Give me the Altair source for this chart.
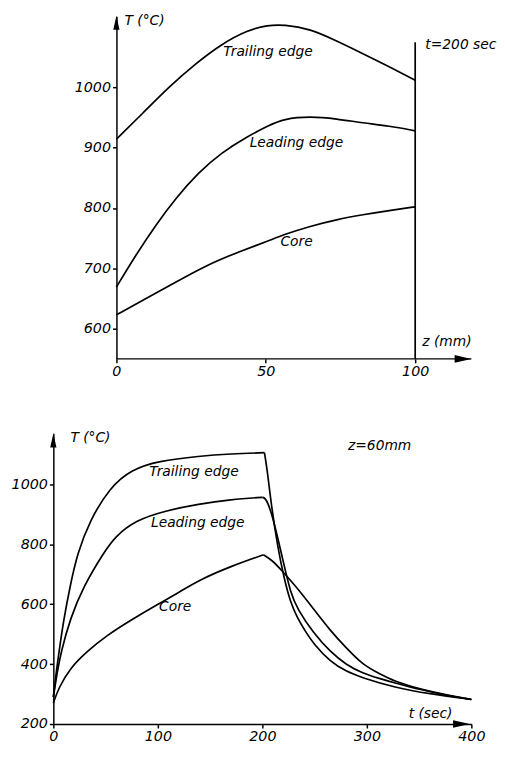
import altair as alt
import pandas as pd

# ---------------- Top panel: T(z) at t = 200 sec ----------------
z_trailing = [0, 8.8, 17.6, 26.4, 35.2, 44, 50.6, 56, 64.9, 73.7, 82.5, 91.3, 100]
T_trailing_z = [914, 957, 1001, 1039, 1072, 1095, 1103, 1104, 1097, 1077, 1056, 1034, 1012]

z_leading = [0, 6.6, 13.2, 19.8, 27.5, 35.2, 44, 50.6, 56, 64.9, 73.7, 82.5, 91.3, 100]
T_leading_z = [669, 723, 772, 816, 859, 892, 919, 936, 948, 952, 948, 941, 936, 928]

z_core = [0, 8.8, 19.8, 30.8, 41.8, 50.6, 56, 64.9, 73.7, 82.5, 91.3, 100]
T_core_z = [623, 647, 677, 707, 729, 745, 756, 770, 781, 789, 796, 802]

z_ticks = [0, 50, 100]
T_ticks_top = [600, 700, 800, 900, 1000]

# ---------------- Bottom panel: T(t) at z = 60 mm ----------------
t_trailing = [0, 3, 6, 10, 16, 23, 35, 54, 75, 100, 140, 170, 202, 205, 208, 214.5,
              221, 227, 233, 241, 249, 265, 280, 296, 327, 359, 400]
T_trailing_t = [290, 380, 455, 550, 660, 770, 880, 990, 1050, 1078, 1095, 1102, 1106, 1040, 946, 793,
                683, 606, 558, 510, 468, 408, 376, 354, 322, 301, 282]

t_leading = [0, 4, 7.5, 16, 29, 48, 59, 79, 107, 139, 170, 200, 203, 208, 214.5, 221, 227,
             233.5, 249, 265, 280.5, 296, 312, 327, 343, 359, 372, 400]
T_leading_t = [290, 380, 442, 551, 661, 771, 826, 881, 912, 935, 950, 957, 955, 915, 826, 727, 639,
               584, 503, 441, 397, 370, 352, 337, 322, 310, 299, 282]

t_core = [0, 5, 16, 32, 51, 76, 100, 120, 139, 170, 201, 210, 217.6, 233, 249, 265, 280,
          296, 312, 327, 343, 359, 380, 400]
T_core_t = [270, 320, 387, 442, 496, 551, 600, 639, 680, 727, 765, 745, 716, 656, 584, 512, 455,
            398, 368, 342, 325, 310, 295, 282]

t_ticks = [0, 100, 200, 300, 400]
T_ticks_bottom = [200, 400, 600, 800, 1000]

# annotation texts (anchored in data coordinates)
top_labels = ["Trailing  edge", "Leading  edge", "Core", "t=200 sec", "T (°C)", "z (mm)"]
top_label_z = [35.8, 44.6, 54.9, 103.4, 2.7, 102.4]
top_label_T = [1059, 908, 744, 1070, 1110, 578]

bot_labels = ["Trailing  edge", "Leading edge", "Core", "z=60mm", "T (°C)", "t (sec)"]
bot_label_t = [91.8, 93.4, 101.2, 282, 16.3, 340]
bot_label_T = [1040, 870, 591, 1128, 1155, 233]

# scale domains
z_domain = [-21.1, 118.8]
Tz_domain = [550, 1118]
t_domain = [0, 400]
Tt_domain = [200, 1171]

FONT = "DejaVu Sans"
ARROW_UP = "M0,-1L0.45,1L-0.45,1Z"
ARROW_RIGHT = "M1,0L-1,0.45L-1,-0.45Z"


def frame(xs, ys, name, xn, yn):
    return pd.DataFrame({xn: xs, yn: ys, "series": name})


def split_at_peak(xs, ys, name, xn, yn):
    """Heating branch and cooling branch as two separate polylines (sharp corner at the peak)."""
    k = ys.index(max(ys))
    return pd.concat([
        frame(xs[:k + 1], ys[:k + 1], name + " heat", xn, yn),
        frame(xs[k:], ys[k:], name + " cool", xn, yn),
    ])


# ---------------- top chart ----------------
top_df = pd.concat([
    frame(z_trailing, T_trailing_z, "Trailing edge", "z", "T"),
    frame(z_leading, T_leading_z, "Leading edge", "z", "T"),
    frame(z_core, T_core_z, "Core", "z", "T"),
])

zx = alt.X("z:Q", scale=alt.Scale(domain=z_domain, nice=False, zero=False),
           axis=alt.Axis(values=z_ticks, domain=False, title=None, labelFlush=False, format="d"))
Ty = alt.Y("T:Q", scale=alt.Scale(domain=Tz_domain, nice=False, zero=False),
           axis=alt.Axis(values=T_ticks_top, offset=-64, title=None, format="d"))

top_lines = alt.Chart(top_df).mark_line(
    color="black", strokeWidth=1.7, interpolate="basis"
).encode(x=zx, y=Ty, detail="series:N")

top_axis_df = pd.DataFrame({"z": [0], "z2": [z_domain[1]], "T": [Tz_domain[0]]})
top_xaxis = alt.Chart(top_axis_df).mark_rule(color="black", strokeWidth=1.5).encode(
    x="z:Q", x2="z2:Q", y="T:Q")

top_right_df = pd.DataFrame({"z": [100], "T": [Tz_domain[0]], "T2": [1075]})
top_right = alt.Chart(top_right_df).mark_rule(color="black", strokeWidth=1.7).encode(
    x="z:Q", y="T:Q", y2="T2:Q")

top_arrow_up = alt.Chart(pd.DataFrame({"z": [0], "T": [1107]})).mark_point(
    shape=ARROW_UP, size=200, filled=True, color="black", opacity=1
).encode(x="z:Q", y="T:Q")
top_arrow_right = alt.Chart(pd.DataFrame({"z": [116], "T": [Tz_domain[0]]})).mark_point(
    shape=ARROW_RIGHT, size=290, filled=True, color="black", opacity=1
).encode(x="z:Q", y="T:Q")

top_text = alt.Chart(pd.DataFrame({"z": top_label_z, "T": top_label_T, "txt": top_labels})).mark_text(
    align="left", baseline="middle", font=FONT, fontStyle="italic", fontSize=14, color="black"
).encode(x="z:Q", y="T:Q", text="txt:N")

top = alt.layer(top_lines, top_xaxis, top_right, top_arrow_up, top_arrow_right, top_text).properties(
    width=424, height=347.6)

# ---------------- bottom chart ----------------
bot_df = pd.concat([
    split_at_peak(t_trailing, T_trailing_t, "Trailing edge", "t", "T"),
    split_at_peak(t_leading, T_leading_t, "Leading edge", "t", "T"),
    split_at_peak(t_core, T_core_t, "Core", "t", "T"),
])

tx = alt.X("t:Q", scale=alt.Scale(domain=t_domain, nice=False, zero=False),
           axis=alt.Axis(values=t_ticks, title=None, labelFlush=False, format="d"))
Ty2 = alt.Y("T:Q", scale=alt.Scale(domain=Tt_domain, nice=False, zero=False),
            axis=alt.Axis(values=T_ticks_bottom, title=None, format="d"))

bot_lines = alt.Chart(bot_df).mark_line(
    color="black", strokeWidth=1.7, interpolate="basis"
).encode(x=tx, y=Ty2, detail="series:N")

bot_arrow_up = alt.Chart(pd.DataFrame({"t": [0], "T": [1147]})).mark_point(
    shape=ARROW_UP, size=200, filled=True, color="black", opacity=1
).encode(x="t:Q", y="T:Q")
bot_arrow_right = alt.Chart(pd.DataFrame({"t": [390.5], "T": [Tt_domain[0]]})).mark_point(
    shape=ARROW_RIGHT, size=290, filled=True, color="black", opacity=1
).encode(x="t:Q", y="T:Q")

bot_text = alt.Chart(pd.DataFrame({"t": bot_label_t, "T": bot_label_T, "txt": bot_labels})).mark_text(
    align="left", baseline="middle", font=FONT, fontStyle="italic", fontSize=14, color="black"
).encode(x="t:Q", y="T:Q", text="txt:N")

bottom = alt.layer(bot_lines, bot_arrow_up, bot_arrow_right, bot_text).properties(
    width=424, height=295)

chart = alt.vconcat(top, bottom, spacing=52).properties(
    padding={"left": 3, "top": 0, "right": 0, "bottom": 0}
).configure_view(stroke=None).configure_axis(
    grid=False,
    labelFont=FONT, labelFontStyle="italic", labelFontSize=14.5, labelColor="black",
    labelOverlap=False, labelPadding=2,
    tickColor="black", tickSize=4, tickWidth=1.5,
    domainColor="black", domainWidth=1.5,
)

chart.save("out.html", embed_options={"renderer": "svg", "actions": False})
